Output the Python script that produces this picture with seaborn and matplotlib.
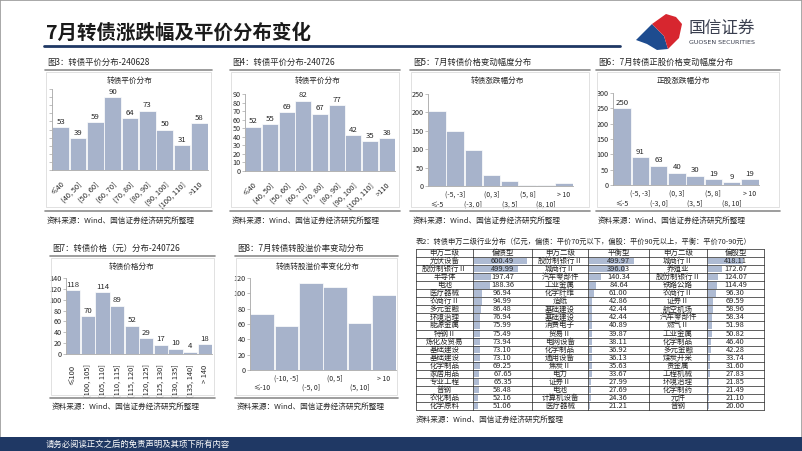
import numpy as np
import pandas as pd
import matplotlib
matplotlib.use("Agg")
import matplotlib.pyplot as plt
import seaborn as sns
from matplotlib.patches import Polygon, Rectangle
from matplotlib.lines import Line2D

sns.set_theme(style="white")
plt.rcParams['font.family'] = ['Noto Sans CJK SC', 'DejaVu Sans']
plt.rcParams['axes.unicode_minus'] = False

W, H = 802, 451

# ---------------- data ----------------
parity_cats = ["≤40", "(40, 50]", "(50, 60]", "(60, 70]", "(70, 80]", "(80, 90]",
               "(90, 100]", "(100, 110]", ">110"]
parity_0628 = [53, 39, 59, 90, 64, 73, 50, 31, 58]
parity_0726 = [52, 55, 69, 82, 67, 77, 42, 35, 38]

chg_cats = ["≤-5", "(-5, -3]", "(-3, 0]", "(0, 3]", "(3, 5]", "(5, 8]", "(8, 10]", "> 10"]
cb_chg_vals = [205, 150, 98, 30, 13, 2, 4, 7]
stock_chg_vals = [250, 91, 63, 40, 30, 19, 9, 19]

price_cats = ["≤100", "(100, 105]", "(105, 110]", "(110, 115]", "(115, 120]", "(120, 125]",
              "(125, 130]", "(130, 135]", "(135, 140]", "> 140"]
price_vals = [118, 70, 114, 89, 52, 29, 17, 10, 4, 18]

prem_cats = ["≤-10", "(-10, -5]", "(-5, 0]", "(0, 5]", "(5, 10]", "> 10"]
prem_vals = [73, 57, 114, 108, 61, 98]

table_headers = ["申万二级", "偏债型", "申万二级", "平衡型", "申万二级", "偏股型"]
bond_inds = ["光伏设备", "股份制银行Ⅱ", "半导体", "电池", "医疗器械", "农商行Ⅱ", "多元金融",
             "环境治理", "能源金属", "特钢Ⅱ", "炼化及贸易", "基础建设", "基础建设", "化学制品",
             "家居用品", "专业工程", "普钢", "农化制品", "化学原料"]
bond_vals = [600.49, 499.99, 197.47, 188.36, 96.94, 94.99, 86.48, 76.94, 75.99, 75.49,
             73.94, 73.10, 73.10, 69.25, 67.65, 65.35, 58.48, 52.16, 51.06]
bal_inds = ["股份制银行Ⅱ", "城商行Ⅱ", "汽车零部件", "工业金属", "化学纤维", "造纸", "基础建设",
            "基础建设", "消费电子", "贸易Ⅱ", "电网设备", "化学制品", "通用设备", "焦炭Ⅱ",
            "电力", "证券Ⅱ", "电池", "计算机设备", "医疗器械"]
bal_vals = [499.97, 396.03, 140.34, 84.64, 61.00, 42.86, 42.44, 42.44, 40.89, 39.87,
            38.11, 36.92, 36.13, 35.63, 33.67, 27.99, 27.69, 24.36, 21.21]
eq_inds = ["城商行Ⅱ", "养殖业", "股份制银行Ⅱ", "铁路公路", "农商行Ⅱ", "证券Ⅱ", "航空机场",
           "汽车零部件", "燃气Ⅱ", "工业金属", "化学制品", "多元金融", "煤炭开采", "贵金属",
           "工程机械", "环境治理", "化学制药", "元件", "普钢"]
eq_vals = [418.11, 172.67, 124.07, 114.49, 96.30, 69.59, 58.96, 58.34, 51.98, 50.82,
           46.40, 42.28, 33.74, 31.60, 27.83, 21.85, 21.49, 21.10, 20.00]

# ---------------- styles ----------------
BAR = "#A7B3CB"
DBAR = "#AEBBD3"
NAVY = "#1F3864"
TXT = "#262626"
GRAYLINE = "#8C8C8C"

fig = plt.figure(figsize=(W / 100, H / 100), dpi=100)
fig.patch.set_facecolor("white")


def px_rect(x0, y0, x1, y1):
    return [x0 / W, 1 - y1 / H, (x1 - x0) / W, (y1 - y0) / H]


def ftext(x, y, s, **kw):
    kw.setdefault("color", TXT)
    fig.text(x / W, 1 - y / H, s, **kw)


def hline(x0, x1, y, color=GRAYLINE, lw=1.0):
    fig.add_artist(Line2D([x0 / W, x1 / W], [1 - y / H, 1 - y / H], color=color, lw=lw))


def frame(x0, y0, x1, y1, color="#DCDCDC", lw=0.6):
    fig.add_artist(Rectangle((x0 / W, 1 - y1 / H), (x1 - x0) / W, (y1 - y0) / H,
                             fill=False, edgecolor=color, lw=lw, transform=fig.transFigure))


def hist(rect, cats, vals, ymax, ystep, show_vals=True, show_ylabels=True, mode="stagger",
         rows_off=(9, 19)):
    ax = fig.add_axes(px_rect(*rect))
    df = pd.DataFrame({"cat": cats, "val": vals})
    sns.barplot(data=df, x="cat", y="val", color=BAR, saturation=1, width=0.97,
                edgecolor="white", linewidth=0.5, ax=ax)
    ax.set_xlim(-0.5, len(cats) - 0.5)
    ax.set_ylim(0, ymax)
    ax.set_yticks(np.arange(0, ymax + 0.1, ystep))
    ax.set_xlabel("")
    ax.set_ylabel("")
    ax.set_facecolor("none")
    for s in ["top", "right"]:
        ax.spines[s].set_visible(False)
    for s in ["left", "bottom"]:
        ax.spines[s].set_color("#A6A6A6")
        ax.spines[s].set_linewidth(0.6)
    ax.tick_params(axis="y", which="both", left=True, length=2, width=0.5, color="#A6A6A6",
                   labelsize=5.2, pad=1, labelcolor=TXT)
    ax.tick_params(axis="x", bottom=False, labelsize=5.4, pad=1.5, labelcolor=TXT)
    if not show_ylabels:
        ax.set_yticklabels([])
    ax.set_xticks(range(len(cats)))
    if mode == "stagger":
        ax.set_xticklabels([])
        for i, c in enumerate(cats):
            off = rows_off[1] if i % 2 == 0 else rows_off[0]
            ax.annotate(c, xy=(i, 0), xycoords=ax.get_xaxis_transform(),
                        xytext=(0, -off), textcoords="offset pixels",
                        ha="center", va="center", fontsize=5, color=TXT,
                        annotation_clip=False)
    elif mode == "rot45":
        ax.set_xticklabels(cats, rotation=45, ha="right", rotation_mode="anchor")
    elif mode == "rot90":
        ax.set_xticklabels(cats, rotation=90, ha="center", va="top")
    if show_vals:
        ax.bar_label(ax.containers[0], fontsize=5.6, padding=1, color=TXT)
    return ax


# ---------------- header ----------------
fig.add_artist(Rectangle((0, 0), 1, 1, fill=False, edgecolor="#9A9A9A", lw=1.2,
                         transform=fig.transFigure))
ftext(46, 33, "7月转债涨跌幅及平价分布变化", fontsize=14, fontweight="bold", va="center",
      color="#1A1A1A")
hline(44, 620, 46, color=NAVY, lw=2.0)
# logo
fig.add_artist(Polygon([(636 / W, 1 - 40 / H), (652 / W, 1 - 24 / H), (664 / W, 1 - 36 / H),
                        (668 / W, 1 - 49 / H), (657 / W, 1 - 50 / H), (647 / W, 1 - 44 / H)],
                       closed=True, facecolor="#1E4C8F", edgecolor="none",
                       transform=fig.transFigure))
fig.add_artist(Polygon([(652 / W, 1 - 24 / H), (666 / W, 1 - 14 / H), (676 / W, 1 - 17 / H),
                        (682 / W, 1 - 24 / H), (679 / W, 1 - 38 / H), (668 / W, 1 - 49 / H),
                        (664 / W, 1 - 36 / H)],
                       closed=True, facecolor="#D7262F", edgecolor="none",
                       transform=fig.transFigure))
ftext(689, 28, "国信证券", fontsize=12, va="center", color="#3A3F4F")
ftext(689, 43, "GUOSEN SECURITIES", fontsize=4.6, va="center", color="#3A3F4F",
      family=["DejaVu Sans"])

# ---------------- footer ----------------
fig.add_artist(Rectangle((0, 0), 1, 14 / H, facecolor=NAVY, edgecolor="none",
                         transform=fig.transFigure))
ftext(46, 444, "请务必阅读正文之后的免责声明及其项下所有内容", fontsize=6, va="center",
      color="white")

SRC = "资料来源：Wind、国信证券经济研究所整理"

# ---------------- top row ----------------
panels_top = [
    (47, 45, 212, "图3：转债平价分布-240628", "转债平价分布", 130),
    (232, 230, 400, "图4：转债平价分布-240726", "转债平价分布", 318),
    (413, 410, 590, "图5：7月转债价格变动幅度分布", "转债涨跌幅分布", 497),
    (598, 596, 780, "图6：7月转债正股价格变动幅度分布", "正股涨跌幅分布", 683),
]
for cx, lx0, lx1, cap, title, tx in panels_top:
    ftext(cx, 62, cap, fontsize=6, va="center")
    hline(lx0, lx1, 70, lw=1.2)
    frame(lx0 + 1, 72, lx1 - 1, 207)
    ftext(tx, 81, title, fontsize=5.5, ha="center", va="center")
    hline(lx0, lx1, 211, lw=1.2)
    ftext(cx, 221, SRC, fontsize=5.5, va="center")

hist((52, 89, 208, 170), parity_cats, parity_0628, 100, 10, show_ylabels=False, mode="rot45")
hist((245, 94, 395, 171), parity_cats, parity_0726, 90, 10, mode="rot45")
hist((428, 94, 573, 186), chg_cats, cb_chg_vals, 250, 50, show_vals=False, mode="stagger")
hist((613, 93, 759, 185), chg_cats, stock_chg_vals, 300, 50, mode="stagger")

# ---------------- bottom-left ----------------
panels_bot = [
    (52, 50, 215, "图7：转债价格（元）分布-240726", "转债价格分布", 132),
    (237, 235, 398, "图8：7月转债转股溢价率变动分布", "转债转股溢价率变化分布", 318),
]
for cx, lx0, lx1, cap, title, tx in panels_bot:
    ftext(cx, 248, cap, fontsize=6, va="center")
    hline(lx0, lx1, 256, lw=1.2)
    frame(lx0 + 1, 258, lx1 - 1, 395)
    ftext(tx, 267, title, fontsize=5.5, ha="center", va="center")
    hline(lx0, lx1, 398, lw=1.2)
    ftext(cx, 407, SRC, fontsize=5.5, va="center")

hist((66, 278, 212, 354), price_cats, price_vals, 140, 20, mode="rot90")
hist((250, 278, 396, 370), prem_cats, prem_vals, 120, 20, show_vals=False, mode="stagger",
     rows_off=(9, 18))

# ---------------- table ----------------
ftext(416, 242, "表2：转债申万二级行业分布（亿元，偏债：平价70元以下，偏股：平价90元以上，平衡：平价70-90元）",
      fontsize=5.2, va="center")
tab = fig.add_axes(px_rect(416, 249, 764, 410))
col_edges = [0, 57, 116, 172, 233, 291, 348]
nrows = 20
tab.set_xlim(0, 348)
tab.set_ylim(nrows, 0)
tab.axis("off")
rows = np.arange(1, nrows) + 0.5
vmax = max(bond_vals + bal_vals + eq_vals)
for j, vals in [(1, bond_vals), (3, bal_vals), (5, eq_vals)]:
    cw = col_edges[j + 1] - col_edges[j]
    tab.barh(rows, [v / vmax * cw * 0.9 for v in vals], left=col_edges[j] + 0.5, height=0.82,
             color=DBAR, edgecolor="none")
for i in range(nrows + 1):
    tab.plot([0, 348], [i, i], color="#202020", lw=0.5, clip_on=False)
for x in col_edges:
    tab.plot([x, x], [0, nrows], color="#202020", lw=0.5, clip_on=False)
for j, h in enumerate(table_headers):
    tab.text((col_edges[j] + col_edges[j + 1]) / 2, 0.5, h, ha="center", va="center",
             fontsize=5.4, color=TXT)
cols = [bond_inds, bond_vals, bal_inds, bal_vals, eq_inds, eq_vals]
for j, col in enumerate(cols):
    xc = (col_edges[j] + col_edges[j + 1]) / 2
    for i, v in enumerate(col):
        s = f"{v:.2f}" if isinstance(v, float) else v
        tab.text(xc, rows[i], s, ha="center", va="center", fontsize=5.4, color=TXT)
ftext(416, 420, SRC, fontsize=5.5, va="center")

fig.savefig("out.png", dpi=100, facecolor="white")
